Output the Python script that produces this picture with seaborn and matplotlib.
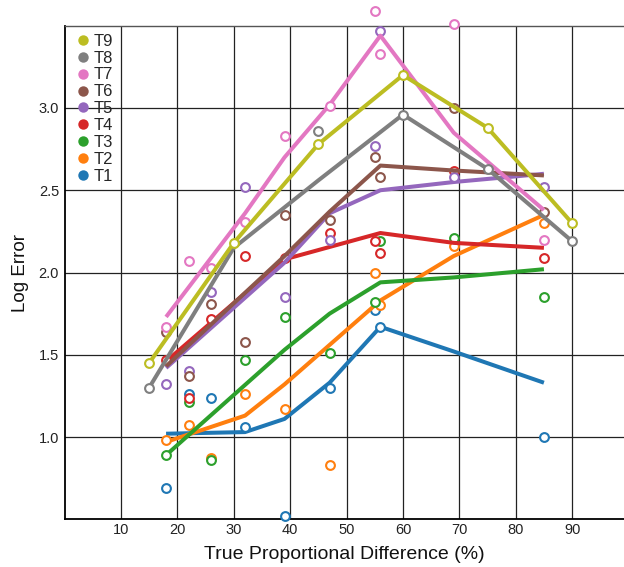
import matplotlib
matplotlib.use("Agg")
import matplotlib.pyplot as plt
import seaborn as sns
from matplotlib.lines import Line2D

# ---------------- data ----------------
tasks = ["T1", "T2", "T3", "T4", "T5", "T6", "T7", "T8", "T9"]
colors = ["#1f77b4", "#ff7f0e", "#2ca02c", "#d62728", "#9467bd",
          "#8c564b", "#e377c2", "#7f7f7f", "#bcbd22"]

# observed points (true proportional difference %, log error)
T1_px = [18, 22, 26, 32, 39, 47, 55, 56, 85]
T1_py = [0.69, 1.26, 1.24, 1.06, 0.52, 1.30, 1.77, 1.67, 1.00]
T2_px = [18, 22, 26, 32, 39, 47, 55, 56, 69, 85]
T2_py = [0.98, 1.07, 0.87, 1.26, 1.17, 0.83, 2.00, 1.80, 2.16, 2.30]
T3_px = [18, 22, 26, 32, 39, 47, 55, 56, 69, 85]
T3_py = [0.89, 1.21, 0.86, 1.47, 1.73, 1.51, 1.82, 2.19, 2.21, 1.85]
T4_px = [18, 22, 26, 32, 39, 47, 55, 56, 69, 85]
T4_py = [1.47, 1.24, 1.72, 2.10, 2.09, 2.24, 2.19, 2.12, 2.62, 2.09]
T5_px = [18, 22, 26, 32, 39, 47, 55, 56, 69, 85]
T5_py = [1.32, 1.40, 1.88, 2.52, 1.85, 2.20, 2.77, 3.47, 2.58, 2.52]
T6_px = [18, 22, 26, 32, 39, 47, 55, 56, 69, 85]
T6_py = [1.64, 1.37, 1.81, 1.58, 2.35, 2.32, 2.70, 2.58, 3.00, 2.37]
T7_px = [18, 22, 26, 32, 39, 47, 55, 56, 69, 85]
T7_py = [1.67, 2.07, 2.03, 2.31, 2.83, 3.01, 3.59, 3.33, 3.51, 2.20]
T8_px = [15, 45, 60, 75, 90]
T8_py = [1.30, 2.86, 2.96, 2.63, 2.19]
T9_px = [15, 30, 45, 60, 75, 90]
T9_py = [1.45, 2.18, 2.78, 3.20, 2.88, 2.30]

# fitted trend lines
T1_fx = [18, 32, 39, 47, 56, 69, 85]
T1_fy = [1.02, 1.03, 1.11, 1.33, 1.67, 1.52, 1.33]
T2_fx = [18, 32, 39, 47, 56, 69, 85]
T2_fy = [0.97, 1.13, 1.32, 1.56, 1.83, 2.10, 2.35]
T3_fx = [18, 39, 47, 56, 69, 85]
T3_fy = [0.89, 1.53, 1.75, 1.94, 1.97, 2.02]
T4_fx = [18, 39, 56, 69, 85]
T4_fy = [1.46, 2.08, 2.24, 2.18, 2.15]
T5_fx = [18, 39, 47, 56, 69, 85]
T5_fy = [1.42, 2.06, 2.36, 2.50, 2.55, 2.60]
T6_fx = [18, 39, 47, 56, 69, 85]
T6_fy = [1.43, 2.10, 2.37, 2.65, 2.62, 2.59]
T7_fx = [18, 32, 39, 47, 56, 69, 85]
T7_fy = [1.73, 2.36, 2.70, 3.02, 3.44, 2.85, 2.38]
T8_fx = [15, 30, 45, 60, 75, 90]
T8_fy = [1.30, 2.15, 2.56, 2.96, 2.63, 2.19]
T9_fx = [15, 30, 45, 60, 75, 90]
T9_fy = [1.45, 2.18, 2.78, 3.20, 2.88, 2.30]

x_ticks = [10, 20, 30, 40, 50, 60, 70, 80, 90]
y_ticks = [1.0, 1.5, 2.0, 2.5, 3.0]
y_tick_labels = ["1.0", "1.5", "2.0", "2.5", "3.0"]

points = [(T1_px, T1_py), (T2_px, T2_py), (T3_px, T3_py), (T4_px, T4_py),
          (T5_px, T5_py), (T6_px, T6_py), (T7_px, T7_py), (T8_px, T8_py),
          (T9_px, T9_py)]
fits = [(T1_fx, T1_fy), (T2_fx, T2_fy), (T3_fx, T3_fy), (T4_fx, T4_fy),
        (T5_fx, T5_fy), (T6_fx, T6_fy), (T7_fx, T7_fy), (T8_fx, T8_fy),
        (T9_fx, T9_fy)]

# ---------------- style ----------------
sns.set_style("white")
plt.rcParams["font.family"] = ["Liberation Sans", "DejaVu Sans"]

fig = plt.figure(figsize=(6.24, 5.67), dpi=100)
ax = fig.add_axes([0.1035, 0.0842, 0.8965, 0.8704])

for i, (name, c) in enumerate(zip(tasks, colors)):
    fx, fy = fits[i]
    sns.lineplot(x=fx, y=fy, ax=ax, color=c, linewidth=2.9,
                 solid_capstyle="butt", zorder=3 + 2 * i)
    px, py = points[i]
    sns.scatterplot(x=px, y=py, ax=ax, color=c, s=40, zorder=4 + 2 * i)
    coll = ax.collections[-1]
    coll.set_facecolor("white")
    coll.set_edgecolor(c)
    coll.set_linewidth(1.5)
    coll.set_clip_on(False)

ax.set_xlim(0, 99.2)
ax.set_ylim(0.5, 3.5)
ax.set_xticks(x_ticks)
ax.set_xticklabels([str(t) for t in x_ticks])
ax.set_yticks(y_ticks)
ax.set_yticklabels(y_tick_labels)
ax.grid(True, color="#222222", linewidth=0.9)
ax.set_axisbelow(True)

for side in ["left", "bottom"]:
    ax.spines[side].set_color("black")
    ax.spines[side].set_linewidth(1.3)
ax.spines["top"].set_color("#555555")
ax.spines["top"].set_linewidth(1.0)
ax.spines["right"].set_visible(False)

ax.tick_params(axis="y", length=2, width=1, pad=2, labelsize=10.5,
               colors="black", labelcolor="#222222")
ax.tick_params(axis="x", length=0, pad=3, labelsize=10.5,
               colors="black", labelcolor="#222222")

ax.set_xlabel("True Proportional Difference (%)", fontsize=14, labelpad=6,
              color="#111111")
ax.set_ylabel("Log Error", fontsize=13.5, labelpad=7, color="#111111")

handles = [Line2D([0], [0], marker="o", linestyle="", color=c,
                  markersize=7.5, markeredgewidth=0)
           for c in colors[::-1]]
ax.legend(handles, tasks[::-1], loc="upper left",
          bbox_to_anchor=(0.024, 0.984), frameon=False, fontsize=12,
          handlelength=0.6, handletextpad=0.35, labelspacing=0.115,
          borderpad=0, borderaxespad=0)

fig.savefig("out.png", dpi=100)
